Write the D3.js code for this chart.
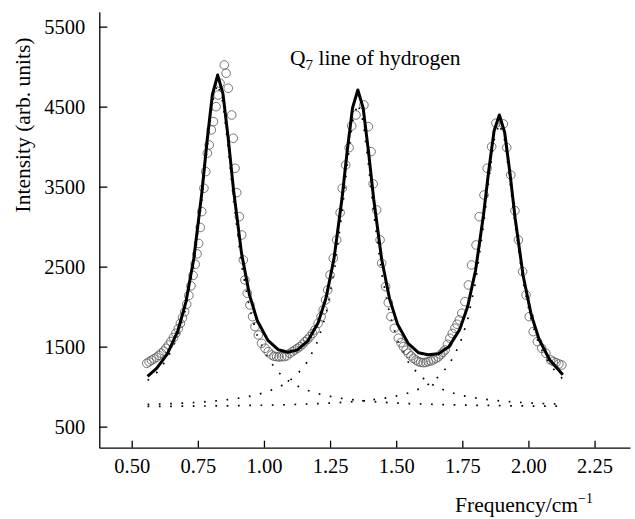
<!DOCTYPE html>
<html>
<head>
<meta charset="utf-8">
<script src="https://cdn.jsdelivr.net/npm/d3@7"></script>
<style>
  body { margin: 0; background: #fff; }
  svg { display: block; }
  text { font-family: "Liberation Serif", "Times New Roman", serif; fill: #000; }
  .comp { fill: none; stroke: #000; stroke-width: 1.7; stroke-dasharray: 1.7 9.6; }
  .fit { fill: none; stroke: #000; stroke-width: 3; stroke-linejoin: round; }
  .obs { fill: none; stroke: #555; stroke-width: 0.8; }
</style>
</head>
<body>
<svg width="635" height="519"></svg>
<script>
// frequency grid used by the fitted curve and the three components
const freq = [0.56, 0.595, 0.635, 0.675, 0.705, 0.735, 0.765, 0.785, 0.805, 0.825,
  0.845, 0.865, 0.885, 0.915, 0.945, 0.975, 1.015, 1.055, 1.09,
  1.125, 1.165, 1.205, 1.235, 1.265, 1.295, 1.315, 1.335, 1.355,
  1.375, 1.395, 1.415, 1.445, 1.475, 1.505, 1.545, 1.585, 1.62,
  1.66, 1.70, 1.74, 1.77, 1.80, 1.83, 1.85, 1.87, 1.89,
  1.91, 1.93, 1.95, 1.98, 2.01, 2.04, 2.08, 2.13];

// total fit (solid line)
const fitI = [1129, 1232, 1410, 1702, 2060, 2605, 3419, 4071, 4649, 4895,
  4663, 4100, 3460, 2672, 2151, 1823, 1579, 1461, 1430,
  1457, 1568, 1800, 2111, 2603, 3348, 3952, 4485, 4708,
  4484, 3948, 3343, 2593, 2097, 1782, 1542, 1423, 1400,
  1410, 1503, 1713, 1998, 2452, 3143, 3702, 4195, 4396,
  4180, 3673, 3099, 2386, 1907, 1593, 1337, 1150];

// individual line components (dotted)
const comp1 = [1078, 1177, 1350, 1635, 1987, 2526, 3332, 3980, 4551, 4790,
  4551, 3980, 3332, 2526, 1987, 1635, 1350, 1177, 1078,
  1009, 953, 912, 889, 870, 853, 845, 837, 830,
  824, 818, 813, 806, 800, 795, 789, 784, 781,
  777, 774, 771, 769, 767, 766, 765, 764, 763,
  762, 761, 760, 759, 758, 757, 756, 755];
const comp2 = [778, 782, 786, 792, 797, 802, 809, 813, 819, 825,
  831, 839, 846, 862, 879, 901, 940, 992, 1057,
  1150, 1312, 1580, 1910, 2416, 3172, 3780, 4316, 4540,
  4316, 3780, 3172, 2416, 1910, 1580, 1312, 1150, 1057,
  985, 934, 897, 876, 859, 845, 837, 830, 823,
  817, 812, 807, 801, 796, 791, 786, 780];
const comp3 = [753, 753, 754, 755, 756, 757, 758, 758, 759, 760,
  761, 761, 762, 764, 765, 767, 769, 772, 775,
  778, 783, 788, 792, 797, 803, 807, 812, 818,
  824, 830, 838, 851, 867, 887, 921, 969, 1026,
  1123, 1275, 1525, 1833, 2306, 3012, 3580, 4081, 4290,
  4081, 3580, 3012, 2306, 1833, 1525, 1275, 1095];

// measured points (open circles): [frequency, intensity]
const observed = [
  [0.557, 1292], [0.566, 1310], [0.575, 1330], [0.584, 1348], [0.594, 1368], [0.603, 1392],
  [0.612, 1418], [0.621, 1445], [0.630, 1480], [0.639, 1520], [0.648, 1565], [0.658, 1615],
  [0.667, 1668], [0.676, 1725], [0.684, 1790], [0.692, 1860], [0.700, 1935], [0.708, 2030],
  [0.716, 2140], [0.724, 2260], [0.732, 2390], [0.740, 2530], [0.747, 2660], [0.753, 2790],
  [0.759, 2990], [0.765, 3188], [0.773, 3480], [0.780, 3688], [0.786, 3918], [0.793, 4021],
  [0.801, 4209], [0.809, 4313], [0.819, 4500], [0.827, 4646], [0.834, 4793], [0.850, 5021],
  [0.857, 4918], [0.865, 4730], [0.878, 4396], [0.884, 4105], [0.891, 3730], [0.897, 3425],
  [0.907, 3125], [0.916, 2896], [0.922, 2584], [0.928, 2334], [0.937, 2168], [0.947, 2021],
  [0.957, 1875], [0.966, 1750], [0.979, 1646], [0.991, 1542], [1.004, 1480], [1.016, 1438],
  [1.029, 1396], [1.038, 1380], [1.048, 1375], [1.057, 1372], [1.067, 1375], [1.077, 1375],
  [1.086, 1385], [1.098, 1417], [1.108, 1438], [1.117, 1459], [1.127, 1480], [1.136, 1500],
  [1.146, 1530], [1.155, 1563], [1.165, 1592], [1.174, 1625], [1.184, 1665], [1.193, 1709],
  [1.205, 1792], [1.216, 1875], [1.224, 1959], [1.233, 2084], [1.241, 2209], [1.250, 2396],
  [1.262, 2605], [1.275, 2834], [1.288, 3175], [1.296, 3480], [1.309, 3771], [1.322, 3988],
  [1.332, 4259], [1.348, 4396], [1.378, 4521], [1.395, 4250], [1.405, 3938], [1.413, 3534],
  [1.426, 3209], [1.439, 2834], [1.445, 2543], [1.460, 2250], [1.470, 2050], [1.480, 1875],
  [1.493, 1730], [1.508, 1605], [1.518, 1550], [1.527, 1500], [1.537, 1455], [1.546, 1417],
  [1.556, 1385], [1.565, 1355], [1.575, 1332], [1.584, 1313], [1.593, 1305], [1.602, 1300],
  [1.612, 1303], [1.621, 1313], [1.631, 1322], [1.640, 1334], [1.650, 1352], [1.659, 1370],
  [1.668, 1400], [1.677, 1430], [1.685, 1459], [1.694, 1530], [1.703, 1605], [1.712, 1665],
  [1.722, 1730], [1.730, 1780], [1.739, 1834], [1.748, 1918], [1.760, 2063], [1.773, 2271],
  [1.785, 2521], [1.802, 2771], [1.814, 3125], [1.832, 3396], [1.844, 3730], [1.861, 4000],
  [1.877, 4293], [1.905, 4284], [1.918, 3988], [1.933, 3646], [1.949, 3200], [1.962, 2834],
  [1.978, 2438], [1.991, 2146], [2.003, 1875], [2.018, 1688], [2.034, 1563], [2.050, 1480],
  [2.066, 1417], [2.084, 1334], [2.094, 1315], [2.104, 1300], [2.115, 1285], [2.126, 1271]
];

const xTicks = [0.5, 0.75, 1.0, 1.25, 1.5, 1.75, 2.0, 2.25];
const yTicks = [500, 1500, 2500, 3500, 4500, 5500];

const svg = d3.select("svg");

const x = d3.scaleLinear().domain([0.3775, 2.384]).range([99.3, 630]);
const y = d3.scaleLinear().domain([237, 5687]).range([447.7, 11.7]);

// dotted components
const compLine = d3.line()
  .x((d, i) => x(freq[i]))
  .y(d => y(d));

[comp1, comp2, comp3].forEach(c => {
  svg.append("path")
    .datum(c)
    .attr("class", "comp")
    .attr("d", compLine);
});

// open circles
svg.append("g")
  .selectAll("circle")
  .data(observed)
  .join("circle")
  .attr("class", "obs")
  .attr("cx", d => x(d[0]))
  .attr("cy", d => y(d[1]))
  .attr("r", 4.3);

// fitted curve
svg.append("path")
  .datum(fitI)
  .attr("class", "fit")
  .attr("d", d3.line().x((d, i) => x(freq[i])).y(d => y(d)));

// axes, ticks pointing inwards
const xAxis = svg.append("g")
  .attr("transform", `translate(0,${y.range()[0]})`)
  .call(d3.axisBottom(x).tickValues(xTicks).tickFormat(d3.format(".2f"))
    .tickSizeInner(-7).tickSizeOuter(0).tickPadding(11));

const yAxis = svg.append("g")
  .attr("transform", `translate(${x.range()[0]},0)`)
  .call(d3.axisLeft(y).tickValues(yTicks).tickFormat(d3.format("d"))
    .tickSizeInner(-8).tickSizeOuter(0).tickPadding(14));

[xAxis, yAxis].forEach(a => {
  a.select(".domain").attr("stroke-width", 1.3);
  a.selectAll(".tick line").attr("stroke-width", 1.3);
  a.selectAll(".tick text")
    .style("font-family", "'Liberation Serif', 'Times New Roman', serif")
    .style("font-size", "20.5px");
});

// axis titles
svg.append("text")
  .attr("transform", "translate(30,125) rotate(-90)")
  .attr("text-anchor", "middle")
  .style("font-size", "21.5px")
  .text("Intensity (arb. units)");

const xLabel = svg.append("text")
  .attr("x", 593)
  .attr("y", 512)
  .attr("text-anchor", "end")
  .style("font-size", "21.5px");
xLabel.append("tspan").text("Frequency/cm");
xLabel.append("tspan").attr("dy", -9).style("font-size", "14px").text("\u22121");

// in-plot title
const title = svg.append("text")
  .attr("x", 290)
  .attr("y", 65)
  .style("font-size", "21.5px");
title.append("tspan").text("Q");
title.append("tspan").attr("dy", 5).style("font-size", "15px").text("7");
title.append("tspan").attr("dy", -5).text(" line of hydrogen");
</script>
</body>
</html>
